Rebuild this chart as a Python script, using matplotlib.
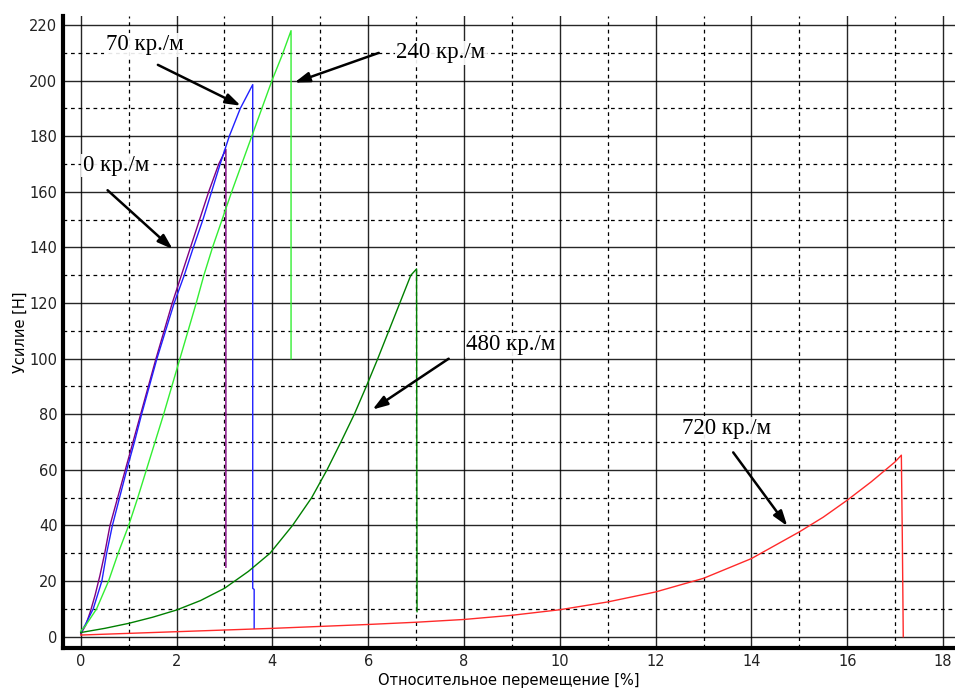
import matplotlib
matplotlib.use('Agg')
import matplotlib.pyplot as plt
from matplotlib.ticker import MultipleLocator

# --- данные ---
x_0 = [0, 0.1, 0.2, 0.3, 0.4, 0.5, 0.61, 0.77, 0.93, 1.09, 1.25, 1.41, 1.57, 1.74,
       1.91, 2.10, 2.29, 2.48, 2.67, 2.88, 3.03, 3.03]
y_0 = [1, 4, 9, 15, 22, 30, 40, 50, 60, 70, 80, 90, 100, 110,
       120, 130, 140, 150, 160, 170, 175.3, 25]

x_70 = [0, 0.1, 0.26, 0.44, 0.54, 0.66, 0.81, 0.96, 1.12, 1.27, 1.43, 1.59, 1.77,
        1.95, 2.16, 2.35, 2.55, 2.73, 2.91, 3.10, 3.33, 3.59, 3.59, 3.62, 3.62]
y_70 = [1.5, 4.5, 10, 20, 30, 40, 50, 60, 70, 80, 90, 100, 110,
        120, 130, 140, 150, 160, 170, 180, 190, 198.6, 17.4, 17, 3]

x_240 = [0, 0.1, 0.33, 0.58, 0.78, 1.0, 1.19, 1.37, 1.55, 1.73, 1.90, 2.07, 2.24,
         2.41, 2.57, 2.75, 2.95, 3.15, 3.36, 3.57, 3.78, 3.99, 4.2, 4.39, 4.39]
y_240 = [2, 4, 10, 20, 30, 40, 50, 60, 70, 80, 90, 100, 110,
         120, 130, 140, 150, 160, 170, 180, 190, 200, 209, 218, 100]

x_480 = [0, 0.5, 1, 1.5, 2, 2.5, 3, 3.5, 3.95, 4.42, 4.82, 5.14, 5.43, 5.71,
         5.96, 6.20, 6.43, 6.66, 6.89, 7.01, 7.02]
y_480 = [1.5, 3, 4.8, 7, 9.6, 13, 17.4, 23.5, 30, 40, 50, 60, 70, 80,
         90, 100, 110, 120, 130, 132.3, 9]

x_720 = [0, 1, 2, 3, 4, 5, 6, 7, 8, 9, 10, 11, 12, 13, 14, 15, 15.5, 16,
         16.5, 17, 17.13, 17.15, 17.17]
y_720 = [0.6, 1.2, 1.8, 2.4, 3, 3.7, 4.4, 5.2, 6.2, 7.7, 9.7, 12.5, 16.1, 21,
         28.1, 37.7, 43, 49.1, 55.7, 62.9, 65.3, 36, 0]

series = [
    (x_0, y_0, '#800080'),
    (x_70, y_70, '#2020ff'),
    (x_240, y_240, '#33ee33'),
    (x_480, y_480, '#008000'),
    (x_720, y_720, '#ff2a2a'),
]

# подписи: текст, позиция текста, начало стрелки, конец стрелки
labels = ['70 кр./м', '240 кр./м', '0 кр./м', '480 кр./м', '720 кр./м']
text_pos = [(0.52, 212.9), (6.59, 210), (0.04, 169.5), (8.05, 105), (12.56, 74.9)]
arrow_tail = [(1.61, 205.7), (6.22, 210), (0.56, 160.6), (7.68, 100), (13.62, 66.3)]
arrow_head = [(3.34, 191.0), (4.46, 199.3), (1.92, 139.4), (6.09, 81.7), (14.75, 39.8)]

fig = plt.figure(figsize=(9.55, 6.92), dpi=100)
ax = fig.add_axes([0.066, 0.0636, 0.934, 0.9134])

for xs, ys, c in series:
    ax.plot(xs, ys, color=c, lw=1.0, zorder=3)

ax.set_xlim(-0.37, 18.25)
ax.set_ylim(-4.06, 223.3)

ax.xaxis.set_major_locator(MultipleLocator(2))
ax.xaxis.set_minor_locator(MultipleLocator(1))
ax.yaxis.set_major_locator(MultipleLocator(20))
ax.yaxis.set_minor_locator(MultipleLocator(10))
ax.grid(which='major', color='black', lw=1.0, ls='-', alpha=0.85)
ax.grid(which='minor', color='black', lw=0.9, ls=(0, (3, 3)))
ax.set_axisbelow(True)

ax.tick_params(which='both', length=0, labelsize=10.5, colors='#222222')
ax.tick_params(axis='x', pad=4)
ax.tick_params(axis='y', pad=4)

for s in ['top', 'right']:
    ax.spines[s].set_visible(False)
ax.spines['left'].set_linewidth(3)
ax.spines['bottom'].set_linewidth(3)

ax.set_xlabel('Относительное перемещение [%]', fontsize=10.5, labelpad=3)
ax.set_ylabel('Усилие [Н]', fontsize=10.5, labelpad=1)

for lab, tp, tl, hd in zip(labels, text_pos, arrow_tail, arrow_head):
    ax.text(tp[0], tp[1], lab, family='Liberation Serif', fontsize=16.5,
            va='center', ha='left', zorder=5,
            bbox=dict(facecolor='white', edgecolor='none', pad=1, alpha=0.9))
    ax.annotate('', xy=hd, xytext=tl, zorder=6,
                arrowprops=dict(arrowstyle='-|>,head_length=0.9,head_width=0.3',
                                color='black', lw=1.8, shrinkA=0, shrinkB=0))

fig.savefig('out.png', dpi=100)
